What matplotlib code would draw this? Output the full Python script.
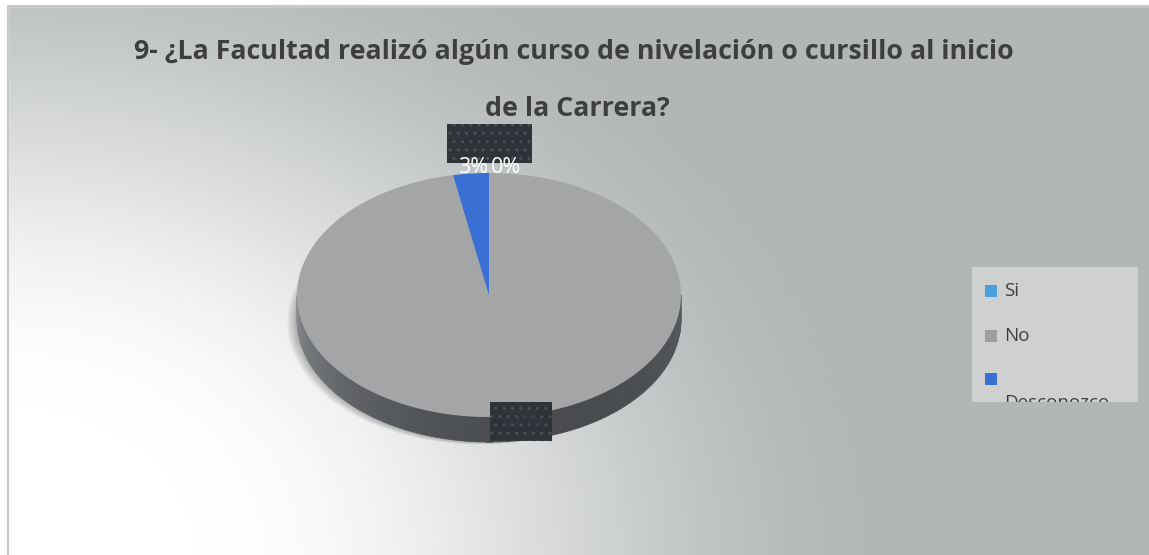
import numpy as np
import matplotlib.pyplot as plt
from matplotlib.patches import Rectangle, Polygon
from matplotlib.transforms import Bbox, TransformedBbox

# data
labels = ["Si", "No", "Desconozco"]
values = [0, 97, 3]
pct_labels = ["0%", "97%", "3%"]
colors = ["#4a9fe0", "#a3a5a6", "#3a6fd4"]
legend_colors = ["#4a9fe0", "#9e9e9e", "#3a6fd4"]
title_lines = ["9- ¿La Facultad realizó algún curso de nivelación o cursillo al inicio",
               "de la Carrera?"]

plt.rcParams['font.family'] = ['Open Sans', 'DejaVu Sans']

W, H = 1149, 555
fig = plt.figure(figsize=(W / 100, H / 100), dpi=100)
ax = fig.add_axes([0, 0, 1, 1])

# background gradient (white in lower left corner, grey elsewhere)
yy, xx = np.mgrid[0:H, 0:W]
r = np.hypot(xx / 1.3, H - yy)
t = np.clip((r - 150) / 550, 0, 1)
t = t * t * (3 - 2 * t)
white = np.array([1.0, 1.0, 1.0])
grey = np.array([178, 182, 183]) / 255
img = white * (1 - t[..., None]) + grey * t[..., None]
ax.imshow(img, extent=(0, W, H, 0), origin='upper', zorder=0)
ax.set_aspect('auto')
ax.set_xlim(0, W)
ax.set_ylim(H, 0)
ax.axis('off')

# white margin and chart border
ax.add_patch(Rectangle((0, 0), W, 6, color='white', zorder=1))
ax.add_patch(Rectangle((0, 0), 8, H, color='white', zorder=1))
ax.plot([8, 8], [6, H], color='#c8c8c8', lw=1.5, zorder=2)
ax.plot([8, W], [6, 6], color='#c8c8c8', lw=1.5, zorder=2)

# title
ax.text(574, 59, title_lines[0], ha='center', va='baseline', fontsize=19.3,
        fontweight='bold', color='#3e3e3e', zorder=5)
ax.text(577, 116, title_lines[1], ha='center', va='baseline', fontsize=19.3,
        fontweight='bold', color='#3e3e3e', zorder=5)

# 3d pie
cx, cy, rx, ry, depth = 489, 295, 192, 122, 25


def rim(a):
    return cx + rx * np.sin(a), cy - ry * np.cos(a)


# soft shadow
for k in range(5):
    g = 16 - 3 * k
    shadow = np.linspace(0, 2 * np.pi, 200)
    sx, sy = rim(shadow)
    ax.fill(sx - g * 0.6, sy + depth + g * 0.15, color='black', alpha=0.05, lw=0, zorder=2)

# side of the pie
steps = np.linspace(np.pi / 2, 3 * np.pi / 2, 120)
for a0, a1 in zip(steps[:-1], steps[1:]):
    x0, y0 = rim(a0)
    x1, y1 = rim(a1)
    m = (a0 + a1) / 2
    f = (m - np.pi / 2) / np.pi  # 0 right, 1 left
    shade = 0.34 - 0.07 * np.sin(np.pi * f) + 0.2 * f ** 3
    c = (shade, shade + 0.01, shade + 0.02)
    ax.add_patch(Polygon([(x0, y0), (x1, y1), (x1, y1 + depth), (x0, y0 + depth)],
                         closed=True, fc=c, ec=c, lw=0.5, zorder=3))

# top of the pie
total = sum(values)
start = 0.0
mids = []
for v, c in zip(values, colors):
    end = start + v / total
    mids.append((start + end) / 2 * 2 * np.pi)
    if v > 0:
        th = np.linspace(start * 2 * np.pi, end * 2 * np.pi, 200)
        px, py = rim(th)
        ax.fill(np.r_[cx, px], np.r_[cy, py], color=c, lw=0, zorder=4)
    start = end

# data labels
box = dict(fc='#2e3338', ec='#4a5056', hatch='..', lw=0, zorder=5)
ax.add_patch(Rectangle((447, 124), 50, 39, **box))
ax.add_patch(Rectangle((497, 124), 35, 39, **box))
ax.text(cx - 1, 173, pct_labels[2], ha='right', va='baseline', fontsize=15.5,
        color='white', zorder=6)
ax.text(cx + 2, 173, pct_labels[0], ha='left', va='baseline', fontsize=15.5,
        color='white', zorder=6)

bx, by = rim(mids[1])
ax.add_patch(Rectangle((bx - 17, by - 14), 62, 39, **box))
ax.text(bx + 14, by + 5, pct_labels[1], ha='center', va='center', fontsize=15.5,
        color='#33383d', zorder=6)

# legend
lx0, ly0, lx1, ly1 = 972, 267, 1138, 402
ax.add_patch(Rectangle((lx0, ly0), lx1 - lx0, ly1 - ly0, fc='#cfd1d1', ec='none', zorder=5))
clip = TransformedBbox(Bbox.from_extents(lx0, ly0, lx1, ly1), ax.transData)
rows = [291, 336, 379]
for lab, c, y in zip(labels, legend_colors, rows):
    ax.add_patch(Rectangle((985, y - 6), 12, 12, fc=c, ec='none', zorder=6))
    if lab == "Desconozco":
        txt = ax.text(1004, y + 29, lab, ha='left', va='baseline', fontsize=13.5,
                      color='#404040', zorder=6, clip_on=True)
        txt.set_clip_box(clip)
    else:
        ax.text(1004, y, lab, ha='left', va='center', fontsize=13.5,
                color='#404040', zorder=6)

fig.savefig('out.png', dpi=100)
